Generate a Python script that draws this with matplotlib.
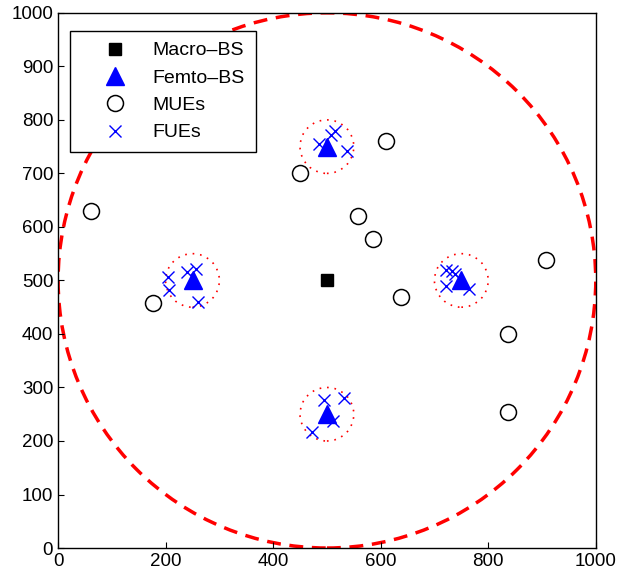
import matplotlib
matplotlib.use("Agg")
import matplotlib.pyplot as plt
from matplotlib.patches import Circle

plt.rcParams['font.family'] = ['Liberation Sans', 'DejaVu Sans']

# network layout
macro_bs = (500, 500)
macro_radius = 500
femto_x = [500, 250, 750, 500]
femto_y = [750, 500, 500, 250]
femto_radius = 50

mue_x = [62, 177, 450, 610, 557, 585, 637, 907, 836, 836]
mue_y = [630, 457, 701, 761, 620, 578, 469, 539, 399, 254]

fue_x = [486, 508, 515, 538,
         205, 207, 240, 257, 260,
         722, 732, 738, 722, 765,
         494, 532, 512, 473]
fue_y = [755, 772, 780, 742,
         507, 482, 516, 522, 460,
         520, 518, 512, 490, 484,
         276, 280, 237, 216]

fig = plt.figure(figsize=(6.18, 5.83), dpi=100)
ax = fig.add_axes([0.094, 0.060, 0.870, 0.918])

ax.add_patch(Circle(macro_bs, macro_radius, fill=False, ec='red', lw=2.5,
                    ls=(0, (4, 2.5)), zorder=1))
for cx, cy in zip(femto_x, femto_y):
    ax.add_patch(Circle((cx, cy), femto_radius, fill=False, ec='red', lw=1.2,
                        ls=(0, (1, 3.5)), zorder=1))

ax.plot([macro_bs[0]], [macro_bs[1]], 's', color='black', ms=8.5, label='Macro\u2013BS')
ax.plot(femto_x, femto_y, '^', color='blue', ms=13, ls='none', label='Femto\u2013BS')
ax.plot(mue_x, mue_y, 'o', mfc='none', mec='black', ms=11.5, mew=1.1, ls='none', label='MUEs')
ax.plot(fue_x, fue_y, 'x', color='blue', ms=9, mew=1.0, ls='none', label='FUEs')

ax.set_xlim(0, 1000)
ax.set_ylim(0, 1000)
ax.set_xticks(range(0, 1001, 200))
ax.set_yticks(range(0, 1001, 100))
ax.tick_params(direction='in', labelsize=13.5, length=4)
for s in ax.spines.values():
    s.set_linewidth(1.0)

leg = ax.legend(loc='upper left', bbox_to_anchor=(0.022, 0.966), fontsize=14,
                frameon=True, fancybox=False, edgecolor='black', framealpha=1,
                borderpad=0.55, handlelength=3.5, handletextpad=0.2,
                labelspacing=0.5, borderaxespad=0)
leg.get_frame().set_linewidth(1.0)
leg.set_zorder(5)

fig.savefig('out.png', dpi=100)
